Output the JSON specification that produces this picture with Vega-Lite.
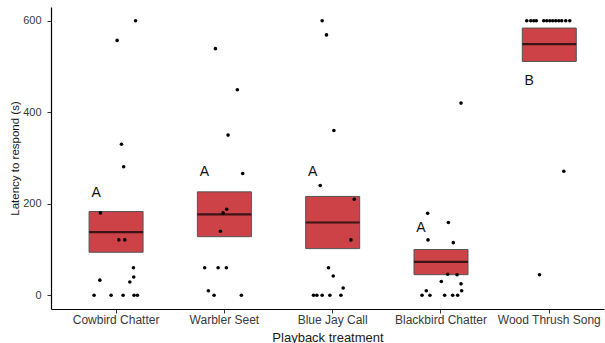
{
  "$schema": "https://vega.github.io/schema/vega-lite/v6.json",
  "width": 553,
  "height": 302,
  "autosize": {"type": "none"},
  "padding": {"left": 51, "top": 7, "right": 1, "bottom": 34},
  "background": "white",
  "config": {
    "view": {"stroke": null},
    "font": "Liberation Sans",
    "axis": {
      "grid": false,
      "domainColor": "black",
      "domainWidth": 1.2,
      "tickColor": "#333333",
      "tickSize": 4,
      "labelColor": "#3a3a3a",
      "labelFont": "Liberation Sans",
      "titleFont": "Liberation Sans",
      "titleFontWeight": "normal",
      "titleColor": "#1a1a1a"
    }
  },
  "datasets": {
    "points": [
      {"treatment": "Cowbird Chatter", "latency": 600, "jitter": 0.18},
      {"treatment": "Cowbird Chatter", "latency": 557, "jitter": 0.01},
      {"treatment": "Cowbird Chatter", "latency": 330, "jitter": 0.05},
      {"treatment": "Cowbird Chatter", "latency": 281, "jitter": 0.07},
      {"treatment": "Cowbird Chatter", "latency": 180, "jitter": -0.145},
      {"treatment": "Cowbird Chatter", "latency": 121, "jitter": 0.025},
      {"treatment": "Cowbird Chatter", "latency": 121, "jitter": 0.08},
      {"treatment": "Cowbird Chatter", "latency": 60, "jitter": 0.16},
      {"treatment": "Cowbird Chatter", "latency": 40, "jitter": 0.163},
      {"treatment": "Cowbird Chatter", "latency": 33, "jitter": -0.15},
      {"treatment": "Cowbird Chatter", "latency": 29, "jitter": 0.127},
      {"treatment": "Cowbird Chatter", "latency": 0, "jitter": -0.203},
      {"treatment": "Cowbird Chatter", "latency": 0, "jitter": -0.046},
      {"treatment": "Cowbird Chatter", "latency": 0, "jitter": 0.065},
      {"treatment": "Cowbird Chatter", "latency": 0, "jitter": 0.166},
      {"treatment": "Cowbird Chatter", "latency": 0, "jitter": 0.197},
      {"treatment": "Warbler Seet", "latency": 539, "jitter": -0.083},
      {"treatment": "Warbler Seet", "latency": 449, "jitter": 0.12},
      {"treatment": "Warbler Seet", "latency": 350, "jitter": 0.034},
      {"treatment": "Warbler Seet", "latency": 266, "jitter": 0.169},
      {"treatment": "Warbler Seet", "latency": 188, "jitter": 0.021},
      {"treatment": "Warbler Seet", "latency": 180, "jitter": -0.012},
      {"treatment": "Warbler Seet", "latency": 140, "jitter": -0.037},
      {"treatment": "Warbler Seet", "latency": 60, "jitter": -0.182},
      {"treatment": "Warbler Seet", "latency": 60, "jitter": -0.058},
      {"treatment": "Warbler Seet", "latency": 60, "jitter": 0.018},
      {"treatment": "Warbler Seet", "latency": 10, "jitter": -0.148},
      {"treatment": "Warbler Seet", "latency": 0, "jitter": -0.095},
      {"treatment": "Warbler Seet", "latency": 0, "jitter": 0.157},
      {"treatment": "Blue Jay Call", "latency": 600, "jitter": -0.097},
      {"treatment": "Blue Jay Call", "latency": 569, "jitter": -0.057},
      {"treatment": "Blue Jay Call", "latency": 360, "jitter": 0.011},
      {"treatment": "Blue Jay Call", "latency": 240, "jitter": -0.115},
      {"treatment": "Blue Jay Call", "latency": 210, "jitter": 0.199},
      {"treatment": "Blue Jay Call", "latency": 121, "jitter": 0.168},
      {"treatment": "Blue Jay Call", "latency": 60, "jitter": -0.039},
      {"treatment": "Blue Jay Call", "latency": 42, "jitter": 0.005},
      {"treatment": "Blue Jay Call", "latency": 16, "jitter": 0.097},
      {"treatment": "Blue Jay Call", "latency": 0, "jitter": -0.177},
      {"treatment": "Blue Jay Call", "latency": 0, "jitter": -0.146},
      {"treatment": "Blue Jay Call", "latency": 0, "jitter": -0.097},
      {"treatment": "Blue Jay Call", "latency": 0, "jitter": -0.026},
      {"treatment": "Blue Jay Call", "latency": 0, "jitter": 0.076},
      {"treatment": "Blackbird Chatter", "latency": 420, "jitter": 0.185},
      {"treatment": "Blackbird Chatter", "latency": 179, "jitter": -0.123},
      {"treatment": "Blackbird Chatter", "latency": 159, "jitter": 0.068},
      {"treatment": "Blackbird Chatter", "latency": 121, "jitter": -0.12},
      {"treatment": "Blackbird Chatter", "latency": 115, "jitter": 0.114},
      {"treatment": "Blackbird Chatter", "latency": 46, "jitter": 0.062},
      {"treatment": "Blackbird Chatter", "latency": 45, "jitter": 0.148},
      {"treatment": "Blackbird Chatter", "latency": 30, "jitter": 0.003},
      {"treatment": "Blackbird Chatter", "latency": 25, "jitter": 0.185},
      {"treatment": "Blackbird Chatter", "latency": 10, "jitter": -0.136},
      {"treatment": "Blackbird Chatter", "latency": 10, "jitter": 0.191},
      {"treatment": "Blackbird Chatter", "latency": 0, "jitter": -0.175},
      {"treatment": "Blackbird Chatter", "latency": 0, "jitter": -0.102},
      {"treatment": "Blackbird Chatter", "latency": 0, "jitter": 0.034},
      {"treatment": "Blackbird Chatter", "latency": 0, "jitter": 0.108},
      {"treatment": "Blackbird Chatter", "latency": 0, "jitter": 0.154},
      {"treatment": "Wood Thrush Song", "latency": 600, "jitter": -0.208},
      {"treatment": "Wood Thrush Song", "latency": 600, "jitter": -0.171},
      {"treatment": "Wood Thrush Song", "latency": 600, "jitter": -0.143},
      {"treatment": "Wood Thrush Song", "latency": 600, "jitter": -0.12},
      {"treatment": "Wood Thrush Song", "latency": 600, "jitter": -0.051},
      {"treatment": "Wood Thrush Song", "latency": 600, "jitter": -0.023},
      {"treatment": "Wood Thrush Song", "latency": 600, "jitter": 0.005},
      {"treatment": "Wood Thrush Song", "latency": 600, "jitter": 0.032},
      {"treatment": "Wood Thrush Song", "latency": 600, "jitter": 0.06},
      {"treatment": "Wood Thrush Song", "latency": 600, "jitter": 0.088},
      {"treatment": "Wood Thrush Song", "latency": 600, "jitter": 0.115},
      {"treatment": "Wood Thrush Song", "latency": 600, "jitter": 0.152},
      {"treatment": "Wood Thrush Song", "latency": 600, "jitter": 0.189},
      {"treatment": "Wood Thrush Song", "latency": 271, "jitter": 0.134},
      {"treatment": "Wood Thrush Song", "latency": 45, "jitter": -0.09}
    ],
    "summary": [
      {"treatment": "Cowbird Chatter", "lower": 94, "mean": 138, "upper": 183, "letter": "A", "letter_y": 224},
      {"treatment": "Warbler Seet", "lower": 128, "mean": 177, "upper": 226, "letter": "A", "letter_y": 270},
      {"treatment": "Blue Jay Call", "lower": 102, "mean": 159, "upper": 216, "letter": "A", "letter_y": 270},
      {"treatment": "Blackbird Chatter", "lower": 45, "mean": 73, "upper": 100, "letter": "A", "letter_y": 146},
      {"treatment": "Wood Thrush Song", "lower": 511, "mean": 549, "upper": 584, "letter": "B", "letter_y": 468}
    ]
  },
  "encoding": {
    "x": {
      "field": "treatment",
      "type": "nominal",
      "sort": ["Cowbird Chatter", "Warbler Seet", "Blue Jay Call", "Blackbird Chatter", "Wood Thrush Song"],
      "scale": {"type": "band", "paddingInner": 0.5, "paddingOuter": 0.303, "align": 0.579},
      "axis": {
        "title": "Playback treatment",
        "labelAngle": 0,
        "labelFontSize": 12,
        "labelPadding": 1,
        "titleFontSize": 13,
        "titlePadding": 6
      }
    }
  },
  "layer": [
    {
      "data": {"name": "summary"},
      "mark": {"type": "bar", "fill": "#CC4246", "stroke": "#555555", "strokeWidth": 1, "width": 54},
      "encoding": {
        "y": {
          "field": "lower",
          "type": "quantitative",
          "scale": {"domain": [-30, 630], "nice": false, "zero": false},
          "axis": {
            "title": "Latency to respond (s)",
            "values": [0, 200, 400, 600],
            "labelFontSize": 11,
            "labelPadding": 6,
            "titleFontSize": 11.5,
            "titlePadding": 2
          }
        },
        "y2": {"field": "upper"}
      }
    },
    {
      "data": {"name": "summary"},
      "mark": {"type": "tick", "color": "black", "thickness": 2.2, "size": 54},
      "encoding": {
        "y": {"field": "mean", "type": "quantitative"}
      }
    },
    {
      "data": {"name": "points"},
      "mark": {"type": "circle", "color": "black", "opacity": 1, "size": 13},
      "encoding": {
        "y": {"field": "latency", "type": "quantitative"},
        "xOffset": {
          "field": "jitter",
          "type": "quantitative",
          "scale": {"domain": [-0.25, 0.25], "nice": false, "zero": false}
        }
      }
    },
    {
      "data": {"name": "summary"},
      "mark": {"type": "text", "fontSize": 14, "color": "#111111", "dx": -20, "baseline": "middle", "align": "center", "font": "Liberation Sans"},
      "encoding": {
        "y": {"field": "letter_y", "type": "quantitative"},
        "text": {"field": "letter"}
      }
    }
  ]
}
